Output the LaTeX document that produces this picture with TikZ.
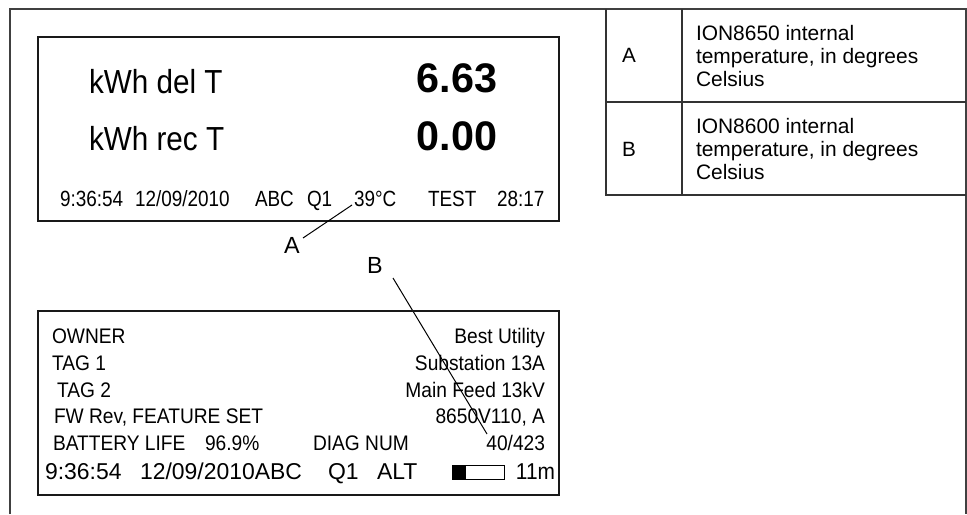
\documentclass[tikz,border=0pt]{standalone}
\usepackage{fontspec}
\setmainfont{Liberation Sans}
\newfontfamily\lcdbigfont[FakeStretch=0.89]{Liberation Sans}
\newfontfamily\lcdnarrowfont[FakeStretch=0.86]{Liberation Sans}
\newfontfamily\lcdrowfont[FakeStretch=0.91]{Liberation Sans}
\begin{document}
\begin{tikzpicture}[x=0.75pt,y=-0.75pt,
  every node/.style={inner sep=0pt, outer sep=0pt},
  lcdbox/.style={draw=black!90, line width=1.9pt},
  frameline/.style={draw=black!75, line width=1.1pt},
  tableline/.style={draw=black!80, line width=0.8pt},
  leader/.style={draw=black, line width=0.75pt},
  bigtxt/.style={font=\lcdbigfont\fontsize{25}{28}\selectfont},
  bignum/.style={font=\bfseries\fontsize{31}{34}\selectfont},
  toprow/.style={font=\lcdnarrowfont\fontsize{16.5}{18}\selectfont},
  lowrow/.style={font=\lcdrowfont\fontsize{15.8}{18}\selectfont},
  lowbottom/.style={font=\fontsize{17.2}{19}\selectfont},
  lowbottomnarrow/.style={font=\lcdrowfont\fontsize{17.2}{19}\selectfont},
  tabtxt/.style={font=\fontsize{15.7}{17}\selectfont, align=left},
  lbl/.style={font=\fontsize{15.5}{17}\selectfont},
  leaderlbl/.style={font=\fontsize{17.5}{19}\selectfont}
]
\useasboundingbox (0,0) rectangle (967,514);

% outer frame
\draw[frameline] (10,514) -- (10,9) -- (966,9) -- (966,514);

% table
\draw[tableline] (606,9) -- (606,195) -- (966,195);
\draw[tableline] (682,9) -- (682,195);
\draw[tableline] (606,102) -- (966,102);
\node[lbl, anchor=west] (tA) at (622,55.5) {A};
\node[tabtxt, anchor=west] (dA) at (696,56) {ION8650 internal\\temperature, in degrees\\Celsius};
\node[lbl, anchor=west] (tB) at (622,149) {B};
\node[tabtxt, anchor=west] (dB) at (696,149) {ION8600 internal\\temperature, in degrees\\Celsius};

% top LCD
\draw[lcdbox] (38,37) rectangle (559,221);
\node[bigtxt, anchor=base west] (kdel) at (89,93) {kWh del T};
\node[bigtxt, anchor=base west] (krec) at (89,150) {kWh rec T};
\node[bignum, anchor=base east] (v1) at (497,92) {6.63};
\node[bignum, anchor=base east] (v2) at (497,150) {0.00};
\node[toprow, anchor=base west] (t1) at (60,206) {9:36:54};
\node[toprow, anchor=base west] (t2) at (135,206) {12/09/2010};
\node[toprow, anchor=base west] (t3) at (255,206) {ABC};
\node[toprow, anchor=base west] (t4) at (307,206) {Q1};
\node[toprow, anchor=base west] (t5) at (354,206) {39°C};
\node[toprow, anchor=base west] (t6) at (428,206) {TEST};
\node[toprow, anchor=base west] (t7) at (497,206) {28:17};

% leader A
\node[leaderlbl, anchor=base] (la) at (292,253) {A};
\coordinate (a0) at (303,238);
\coordinate (a1) at (352,205);
\draw[leader] (a0) -- (a1);

% leader B
\node[leaderlbl, anchor=base] (lb) at (375,273) {B};
\coordinate (b0) at (393,278);
\coordinate (b1) at (487,434);
\draw[leader] (b0) -- (b1);

% lower LCD
\draw[lcdbox] (38,311) rectangle (559,495);
\node[lowrow, anchor=base west] (r1l) at (52,343) {OWNER};
\node[lowrow, anchor=base east] (r1r) at (545,343) {Best Utility};
\node[lowrow, anchor=base west] (r2l) at (52,370) {TAG 1};
\node[lowrow, anchor=base east] (r2r) at (545,370) {Substation 13A};
\node[lowrow, anchor=base west] (r3l) at (57,397) {TAG 2};
\node[lowrow, anchor=base east] (r3r) at (545,397) {Main Feed 13kV};
\node[lowrow, anchor=base west] (r4l) at (54,423) {FW Rev, FEATURE SET};
\node[lowrow, anchor=base east] (r4r) at (545,423) {8650V110, A};
\node[lowrow, anchor=base west] (r5a) at (53,450) {BATTERY LIFE};
\node[lowrow, anchor=base west] (r5b) at (205,450) {96.9\%};
\node[lowrow, anchor=base west] (r5c) at (313,450) {DIAG NUM};
\node[lowrow, anchor=base east] (r5d) at (545,450) {40/423};
\node[lowbottom, anchor=base west] (s1) at (45,479) {9:36:54};
\node[lowbottom, anchor=base west] (s2) at (140,479) {12/09/2010ABC};
\node[lowbottom, anchor=base west] (s3) at (328,479) {Q1};
\node[lowbottom, anchor=base west] (s4) at (377,479) {ALT};
\node[lowbottomnarrow, anchor=base east] (s5) at (555,479) {11m};
% battery icon
\draw[line width=0.7pt] (452,465) rectangle (504,479);
\fill[black] (452,465) rectangle (466,479);
\end{tikzpicture}
\end{document}
